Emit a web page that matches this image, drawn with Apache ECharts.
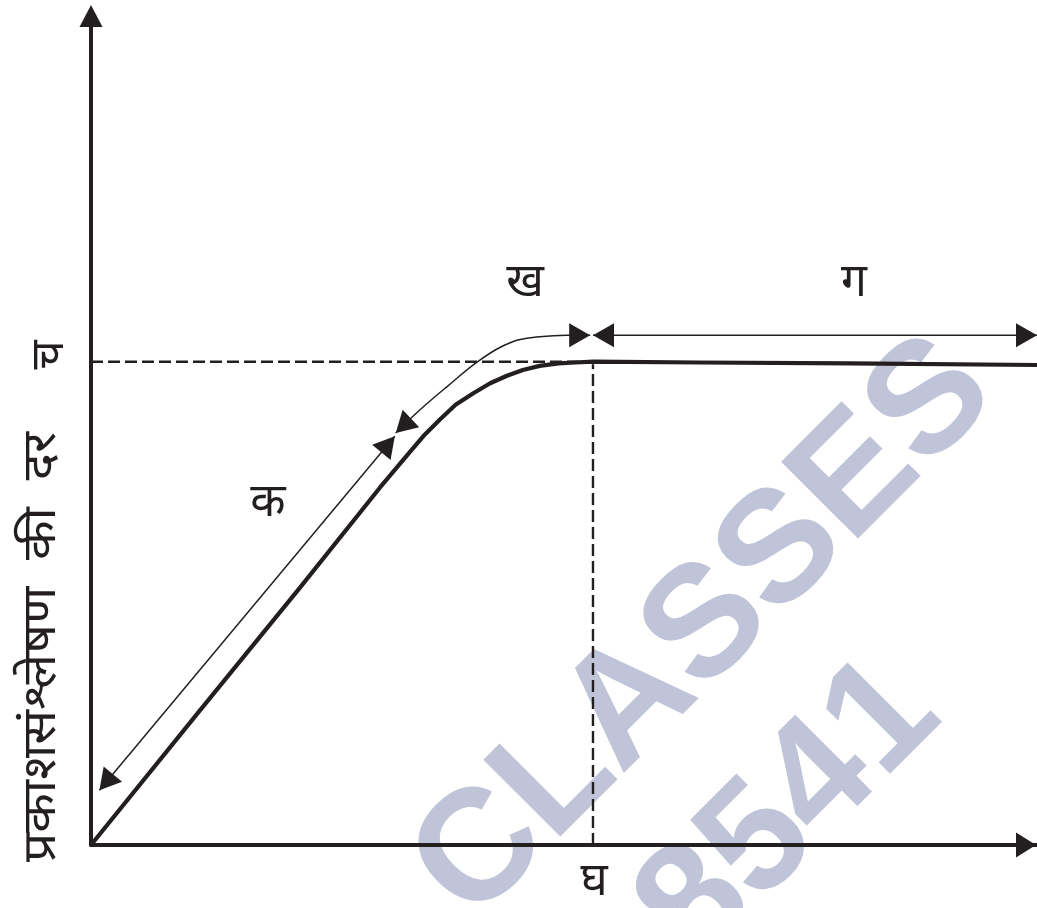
<!DOCTYPE html>
<html>
<head>
<meta charset="utf-8">
<script src="https://cdn.jsdelivr.net/npm/echarts@6/dist/echarts.min.js"></script>
<style>
  html, body { margin: 0; padding: 0; background: #fff; }
  #chart { width: 1037px; height: 908px; }
</style>
</head>
<body>
<div id="chart"></div>
<script>
// प्रकाश की तीव्रता (x) बनाम प्रकाशसंश्लेषण की दर (y), बिना टिक
const curveX = [0, 11.7, 22.4, 30.9, 34.1, 35.7, 37.3, 39.0, 40.9, 42.7, 44.5, 46.2, 48.0, 50.0, 51.8, 53.7, 65.1, 81.2, 101.2]
const curveY = [0, 16.3, 31.1, 43.1, 47.4, 49.5, 51.3, 53.1, 54.5, 55.7, 56.6, 57.3, 57.8, 58.1, 58.2, 58.3, 58.2, 58.1, 57.9]

// संतृप्ति बिंदु (च, घ)
const satX = 53.7
const satY = 58.3

// तीर: क (रैखिक भाग), ख (वक्र भाग), ग (समतल भाग)
const kaX = [0.9, 32.5]
const kaY = [6.6, 49.3]
const khaX = [32.6, 35.2, 38.1, 41.6, 45.1, 48.0, 50.9, 53.4]
const khaY = [49.7, 52.5, 55.3, 58.5, 60.7, 61.3, 61.5, 61.5]
const gaX = [53.7, 101.2]
const gaY = [61.5, 61.5]

const yTitle = 'प्रकाशसंश्लेषण  की  दर'
const satYLabel = 'च'
const satXLabel = 'घ'
const partLabels = ['क', 'ख', 'ग']

const ink = '#231f20'
const font = "'Noto Sans Devanagari', 'Noto Sans', 'Lohit Devanagari', sans-serif"

const zip = (xs, ys) => xs.map((x, i) => [x, ys[i]])

// दोनों सिरों पर तीर का सिर: [सिरा x, सिरा y, पिछला x, पिछला y]
const heads = []
const addHeads = (xs, ys) => {
  const n = xs.length
  heads.push([xs[0], ys[0], xs[1], ys[1]])
  heads.push([xs[n - 1], ys[n - 1], xs[n - 2], ys[n - 2]])
}
addHeads(kaX, kaY)
addHeads(khaX, khaY)
addHeads(gaX, gaY)

const renderHead = (params, api) => {
  const tip = api.coord([api.value(0), api.value(1)])
  const from = api.coord([api.value(2), api.value(3)])
  const dx = tip[0] - from[0]
  const dy = tip[1] - from[1]
  const len = Math.hypot(dx, dy)
  const ux = dx / len
  const uy = dy / len
  const L = 21
  const W = 24
  const bx = tip[0] - ux * L
  const by = tip[1] - uy * L
  return {
    type: 'polygon',
    shape: {
      points: [tip, [bx - uy * W / 2, by + ux * W / 2], [bx + uy * W / 2, by - ux * W / 2]]
    },
    style: { fill: ink }
  }
}

const chart = echarts.init(document.getElementById('chart'))

const thin = { color: ink, width: 1.5 }
const dash = { color: ink, width: 2.4, type: [12, 5] }
const labelStyle = (text) => ({ text, fill: ink, font: '46px ' + font, align: 'center', verticalAlign: 'middle' })

chart.setOption({
  animation: false,
  backgroundColor: '#fff',
  grid: { left: 91, right: 0, top: 16, bottom: 63 },
  xAxis: {
    type: 'value',
    min: 0,
    max: 101.2,
    axisLine: {
      show: true,
      onZero: false,
      symbol: ['none', 'triangle'],
      symbolSize: [25, 20],
      symbolOffset: [0, -11],
      lineStyle: { color: ink, width: 4 }
    },
    axisTick: { show: false },
    axisLabel: { show: false },
    splitLine: { show: false }
  },
  yAxis: {
    type: 'value',
    min: 0,
    max: 100,
    axisLine: {
      show: true,
      onZero: false,
      symbol: ['none', 'triangle'],
      symbolSize: [23, 22],
      lineStyle: { color: ink, width: 4 }
    },
    axisTick: { show: false },
    axisLabel: { show: false },
    splitLine: { show: false }
  },
  series: [
    {
      type: 'line',
      data: [[0, satY], [satX, satY]],
      symbol: 'none',
      lineStyle: dash,
      z: 3
    },
    {
      type: 'line',
      data: [[satX, 0], [satX, satY - 0.3]],
      symbol: 'none',
      lineStyle: dash,
      z: 3
    },
    {
      type: 'line',
      data: zip(curveX, curveY),
      symbol: 'none',
      lineStyle: { color: ink, width: 4.2, join: 'round' },
      z: 4
    },
    {
      type: 'line',
      data: zip(kaX, kaY),
      symbol: 'none',
      lineStyle: thin,
      z: 4
    },
    {
      type: 'line',
      data: zip(khaX, khaY),
      symbol: 'none',
      smooth: 0.4,
      lineStyle: thin,
      z: 4
    },
    {
      type: 'line',
      data: zip(gaX, gaY),
      symbol: 'none',
      lineStyle: thin,
      z: 4
    },
    {
      type: 'custom',
      data: heads,
      renderItem: renderHead,
      clip: false,
      z: 5
    }
  ],
  graphic: [
    // वॉटरमार्क
    {
      type: 'text', z: -10, x: 705, y: 630, rotation: Math.PI / 4,
      style: { text: 'CLASSES', fill: '#c0c4d9', font: "bold 158px 'Liberation Sans', Arial, sans-serif", align: 'center', verticalAlign: 'middle' }
    },
    {
      type: 'text', z: -10, x: 790, y: 812, rotation: Math.PI / 4,
      style: { text: '8541', fill: '#c0c4d9', font: "bold 158px 'Liberation Sans', Arial, sans-serif", align: 'center', verticalAlign: 'middle' }
    },
    {
      type: 'text', x: 46, y: 647, rotation: Math.PI / 2, scaleX: 1.12,
      style: labelStyle(yTitle)
    },
    {
      type: 'text', x: 54, y: 355, rotation: Math.PI / 2,
      style: labelStyle(satYLabel)
    },
    {
      type: 'text', x: 594, y: 886,
      style: labelStyle(satXLabel)
    },
    {
      type: 'text', x: 268, y: 507,
      style: labelStyle(partLabels[0])
    },
    {
      type: 'text', x: 525, y: 287,
      style: labelStyle(partLabels[1])
    },
    {
      type: 'text', x: 854, y: 287,
      style: labelStyle(partLabels[2])
    }
  ]
})
</script>
</body>
</html>
